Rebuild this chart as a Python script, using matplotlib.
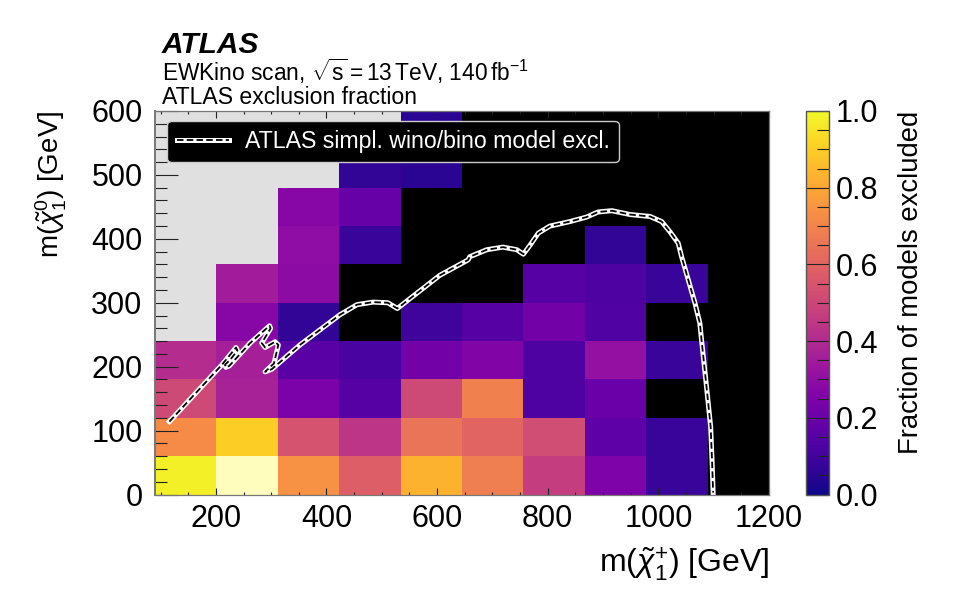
import matplotlib
matplotlib.use("Agg")
import matplotlib.pyplot as plt
import numpy as np
from matplotlib.colors import ListedColormap, Normalize
from matplotlib.legend_handler import HandlerTuple
from matplotlib.ticker import MultipleLocator

plt.rcParams['font.family'] = ['Liberation Sans', 'DejaVu Sans']
plt.rcParams['mathtext.fontset'] = 'custom'
plt.rcParams['mathtext.rm'] = 'Liberation Sans'
plt.rcParams['mathtext.it'] = 'Liberation Sans:italic'
plt.rcParams['mathtext.bf'] = 'Liberation Sans:bold'

x_edges = [90, 201, 312, 423, 534, 645, 756, 867, 978, 1089, 1200]
y_edges = [0, 60, 120, 180, 240, 300, 360, 420, 480, 540, 600]

# Anteil ausgeschlossener Modelle, Zeilen von unten nach oben
# nan = kein Modell (grau), 0 = nichts ausgeschlossen (schwarz)
nan = np.nan
row_0 = [0.98, 1.00, 0.74, 0.58, 0.83, 0.68, 0.47, 0.25, 0.08, 0]
row_1 = [0.72, 0.90, 0.54, 0.44, 0.65, 0.60, 0.52, 0.17, 0.08, 0]
row_2 = [0.51, 0.37, 0.24, 0.15, 0.51, 0.69, 0.13, 0.20, 0, 0]
row_3 = [0.41, 0.36, 0.16, 0.12, 0.22, 0.26, 0.13, 0.31, 0.08, 0]
row_4 = [nan, 0.27, 0.07, 0, 0.09, 0.15, 0.22, 0.14, 0, 0]
row_5 = [nan, 0.35, 0.29, 0, 0, 0, 0.15, 0.13, 0.08, 0]
row_6 = [nan, nan, 0.30, 0.08, 0, 0, 0, 0.07, 0, 0]
row_7 = [nan, nan, 0.27, 0.19, 0, 0, 0, 0, 0, 0]
row_8 = [nan, nan, nan, 0.07, 0.05, 0, 0, 0, 0, 0]
row_9 = [nan, nan, nan, nan, 0.05, 0, 0, 0, 0, 0]

# Ausschlusskontur
contour_x = [116, 211, 229, 236.5, 239, 226, 216.6, 218, 224, 262, 297, 299, 283, 289,
             307, 313, 305, 289, 301, 352, 424, 455, 484, 511, 528, 605, 656, 659,
             690, 719, 744, 756, 768, 783, 804, 840, 870, 891, 916, 949, 985, 1006,
             1021, 1036, 1042, 1054, 1066, 1075, 1078, 1087, 1094.5, 1097, 1099]
contour_y = [114, 203, 222, 230, 225, 211, 203, 199, 201, 237, 264, 260, 237, 230,
             239, 234, 205, 192, 196, 234, 281, 297, 301, 300, 291, 343, 367, 372,
             383, 387, 383, 376, 390, 409, 420, 427, 434, 442, 444, 438, 435, 427,
             411, 393, 372, 336, 300, 268, 242, 169, 106, 54, 3]

z = np.array([row_0, row_1, row_2, row_3, row_4, row_5, row_6, row_7, row_8, row_9])

fig = plt.figure(figsize=(9.6, 6), dpi=100)
ax = fig.add_axes([155 / 960, 1 - 494.5 / 600, 614 / 960, 383.5 / 600])
cax = fig.add_axes([806 / 960, 1 - 494.5 / 600, 23 / 960, 383.5 / 600])

ax.set_facecolor('black')
ax.pcolormesh(x_edges, y_edges, np.ma.masked_where(~np.isnan(z), np.ones_like(z)),
              cmap=ListedColormap(['#e0e0e0']))
ax.pcolormesh(x_edges, y_edges, np.ma.masked_where(z != 1, z),
              cmap=ListedColormap(['#fffdbd']))
mesh = ax.pcolormesh(x_edges, y_edges, np.ma.masked_where(np.isnan(z) | (z == 0) | (z == 1), z),
                     cmap='plasma', norm=Normalize(0, 1))

white_line, = ax.plot(contour_x, contour_y, color='white', lw=3.6, solid_joinstyle='round')
dash_line, = ax.plot(contour_x, contour_y, color='black', lw=1.3, dashes=(3.6, 1.8))

ax.set_xlim(90, 1200)
ax.set_ylim(0, 600)
ax.xaxis.set_major_locator(MultipleLocator(200))
ax.xaxis.set_minor_locator(MultipleLocator(50))
ax.yaxis.set_major_locator(MultipleLocator(100))
ax.yaxis.set_minor_locator(MultipleLocator(20))
ax.tick_params(axis='x', which='major', direction='in', top=True, length=5, width=0.8,
               color='#222222', labelsize=22, pad=7)
ax.tick_params(axis='x', which='minor', direction='in', top=True, length=2.5, width=0.8, color='#222222')
ax.tick_params(axis='y', which='major', direction='in', right=False, length=16.5, width=0.8,
               color='#222222', labelsize=22, pad=9)
ax.tick_params(axis='y', which='minor', direction='in', right=False, length=8.5, width=0.8, color='#222222')
for name, spine in ax.spines.items():
    spine.set_color('#777777')
    spine.set_linewidth(1.4 if name == 'left' else 0.9)

ax.set_xlabel(r'$\mathrm{m}(\tilde{\chi}_1^{+})$ [GeV]', fontsize=23, x=1.0, ha='right', labelpad=8)
ax.set_ylabel(r'$\mathrm{m}(\tilde{\chi}_1^{0})$ [GeV]', fontsize=20, y=1.0, ha='right', labelpad=16)

legend = ax.legend([(white_line, dash_line)], ['ATLAS simpl. wino/bino model excl.'],
                   handler_map={tuple: HandlerTuple(ndivide=1, pad=0)},
                   loc='upper left', bbox_to_anchor=(0.02, 0.975), borderaxespad=0,
                   fontsize=16.7, facecolor='black', edgecolor='#cccccc', framealpha=1,
                   labelcolor='white', handlelength=2.25, handletextpad=0.7)
legend.get_frame().set_linewidth(1.0)

cbar = fig.colorbar(mesh, cax=cax)
cbar.set_ticks([0, 0.2, 0.4, 0.6, 0.8, 1.0])
cbar.ax.yaxis.set_minor_locator(MultipleLocator(0.05))
cax.tick_params(which='major', direction='in', length=16.5, width=0.8, color='#222222', labelsize=22, pad=5)
cax.tick_params(which='minor', direction='in', length=8.5, width=0.8, color='#222222')
cbar.outline.set_edgecolor('#555555')
cbar.outline.set_linewidth(1.0)
cbar.set_label('Fraction of models excluded', fontsize=19.8, y=1.0, ha='right', labelpad=14)

# Beschriftung oben
fig.text(162 / 960, 1 - 53 / 600, 'ATLAS', fontsize=21.5, fontweight='bold', fontstyle='italic')
fig.text(162 / 960, 1 - 81 / 600, r'EWKino scan, $\sqrt{\mathrm{s}}=13\,\mathrm{TeV}$, 140$\,\mathrm{fb}^{-1}$',
         fontsize=16.4)
fig.text(162 / 960, 1 - 104.5 / 600, 'ATLAS exclusion fraction', fontsize=16.6)

fig.savefig('out.png', dpi=100)
